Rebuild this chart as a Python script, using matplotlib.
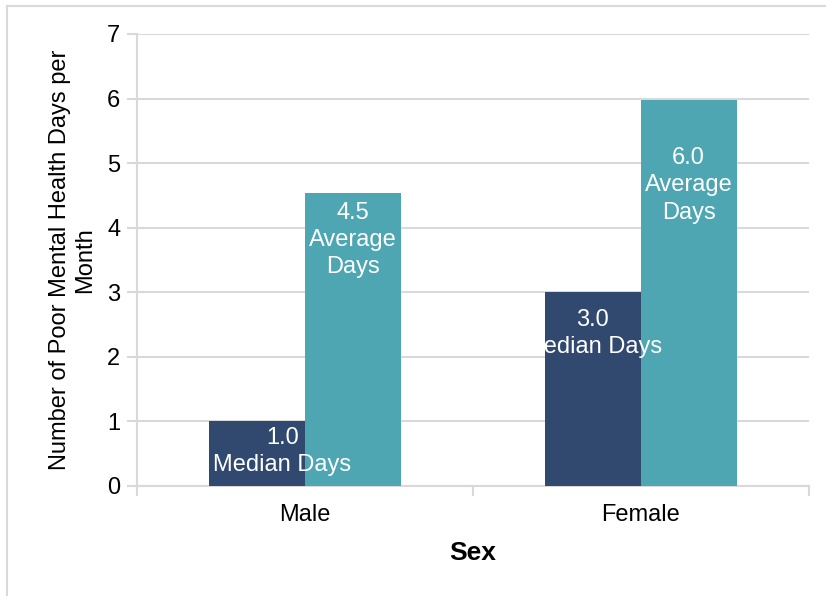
'''
Poor mental health days per month by sex: median vs average.
'''

import matplotlib.pyplot as plt
import numpy as np
from matplotlib.lines import Line2D
from matplotlib.patches import Rectangle

plt.rcParams['font.family'] = ['Liberation Sans', 'DejaVu Sans']

categories = ['Male', 'Female']
median_days = [1.0, 3.0]
average_days = [4.54, 5.98]
median_labels = ['1.0\nMedian Days', '3.0\nMedian Days']
average_labels = ['4.5\nAverage\nDays', '6.0\nAverage\nDays']

dark = '#31486F'
teal = '#4EA6B2'
grid = '#D9D9D9'


def main() -> None:
    fig = plt.figure(figsize=(8.26, 5.96), dpi=100)
    ax = fig.add_axes([137 / 826, 1 - 486 / 596, (808.5 - 137) / 826, (486 - 34) / 596])

    # Outer chart border (left and top only visible)
    fig.add_artist(Line2D([7 / 826, 7 / 826], [0, 1 - 5.5 / 596],
                          transform=fig.transFigure, color=grid, linewidth=1.5))
    fig.add_artist(Line2D([7 / 826, 1], [1 - 5.5 / 596, 1 - 5.5 / 596],
                          transform=fig.transFigure, color=grid, linewidth=1.5))

    x = np.arange(len(categories))
    width = 0.286
    bars_med = ax.bar(x - width / 2, median_days, width, color=dark, zorder=3)
    ax.bar(x + width / 2, average_days, width, color=teal, zorder=3)

    ax.set_xlim(-0.5, 1.5)
    ax.set_ylim(0, 7)
    ax.set_yticks(range(0, 8))
    ax.yaxis.grid(True, color=grid, linewidth=1.5, zorder=0)
    ax.set_xticks(x)
    ax.set_xticklabels(categories, fontsize=17)
    ax.tick_params(axis='y', labelsize=17, length=7, color=grid, width=1.5, pad=5)
    ax.tick_params(axis='x', length=0, pad=13)
    # Category boundary ticks
    ax.set_xticks([-0.5, 0.5, 1.5], minor=True)
    ax.tick_params(axis='x', which='minor', length=7, color=grid, width=1.5)

    for side in ['top', 'right']:
        ax.spines[side].set_visible(False)
    for side in ['left', 'bottom']:
        ax.spines[side].set_color(grid)
        ax.spines[side].set_linewidth(1.5)

    # Label block centres sit this far below each bar top (data units)
    med_drop = [0.47, 0.64]
    avg_drop = [0.73, 1.32]
    med_shift = [-0.067, -width / 2]

    # Median labels
    for i, (xi, h, lab) in enumerate(zip(x, median_days, median_labels)):
        t = ax.text(xi + med_shift[i], h - med_drop[i], lab,
                    ha='center', va='center', color='white', fontsize=17,
                    zorder=4, linespacing=1.32)
        if i == 1:
            # Left part of the label is cut at the bar edge, as in the original
            clip = Rectangle((bars_med[1].get_x() - 0.006, 0), 2, 7,
                             transform=ax.transData)
            t.set_clip_path(clip)

    # Average labels
    for i, (xi, h, lab) in enumerate(zip(x, average_days, average_labels)):
        ax.text(xi + width / 2, h - avg_drop[i], lab, ha='center', va='center',
                color='white', fontsize=17, zorder=4, linespacing=1.32)

    ax.set_xlabel('Sex', fontsize=19, fontweight='bold', labelpad=11)
    ax.set_ylabel('Number of Poor Mental Health Days per\nMonth', fontsize=17,
                  labelpad=8, linespacing=1.2)

    fig.savefig('out.png', dpi=100)
    plt.close(fig)


if __name__ == "__main__":
    main()
